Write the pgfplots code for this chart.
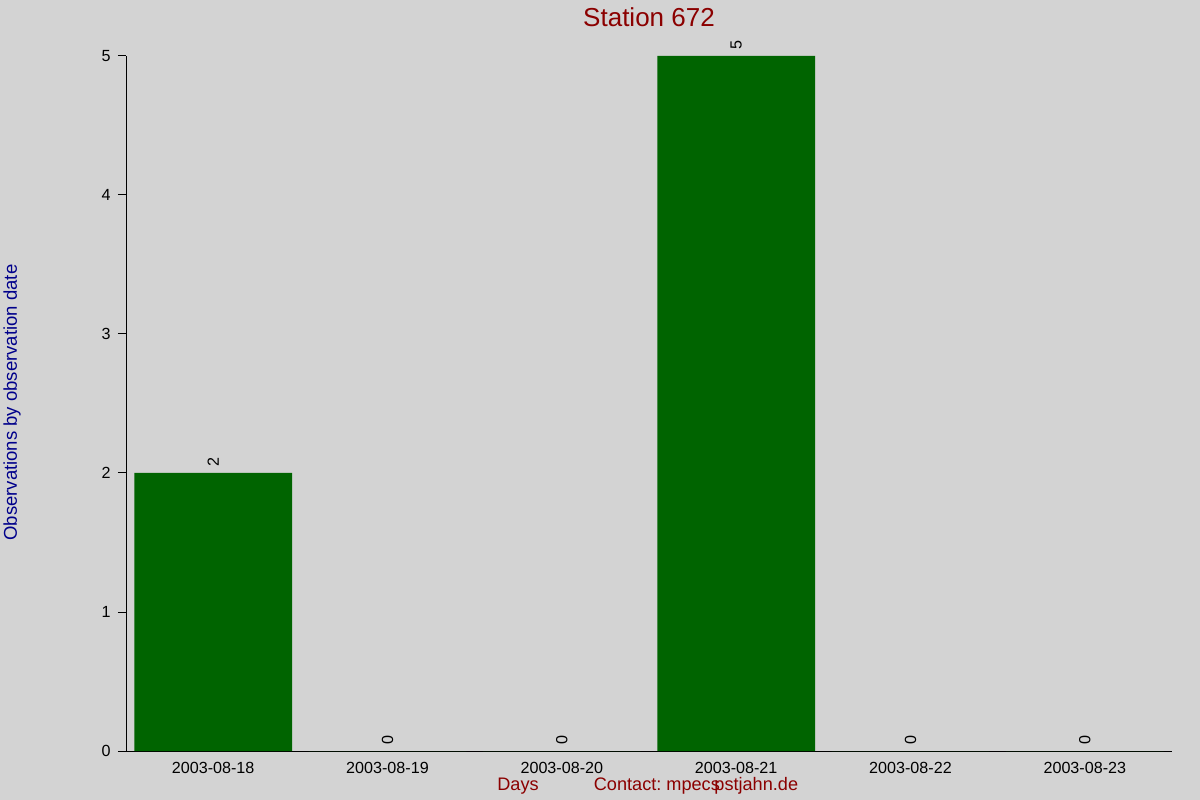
\documentclass[border=0pt]{standalone}
\usepackage{pgfplots}
\pgfplotsset{compat=1.18}
\usepackage{fontspec}
\setmainfont{Liberation Sans}
\definecolor{bg}{HTML}{D3D3D3}
\definecolor{bargreen}{HTML}{006400}
\definecolor{titlered}{HTML}{8B0000}
\definecolor{labelblue}{HTML}{00008B}
\begin{document}
\begin{tikzpicture}
\fill[bg] (0,0) rectangle (900pt,600pt);
\path[use as bounding box] (0,0) rectangle (900pt,600pt);
\begin{axis}[
    at={(94.5pt,36.75pt)}, anchor=south west,
    scale only axis,
    width=784.5pt, height=521.25pt,
    axis x line*=bottom, axis y line*=left,
    axis line style={black, line width=0.75pt, -},
    xmin=-0.5, xmax=5.5,
    ymin=0, ymax=5,
    ytick={0,1,2,3,4,5},
    xtick={0,1,2,3,4,5},
    xticklabels={2003-08-18,2003-08-19,2003-08-20,2003-08-21,2003-08-22,2003-08-23},
    x tick style={draw=none},
    y tick style={black, line width=0.75pt},
    major tick length=6pt,
    ytick pos=left,
    tick align=outside,
    ticklabel style={font=\fontsize{12.1}{14}\selectfont},
    /pgf/number format/assume math mode=true,
    xticklabel style={yshift=1pt},
    yticklabel style={xshift=-2pt},
    ybar, bar width=0.905,
    nodes near coords,
    every node near coord/.append style={rotate=90, anchor=west, black,
        font=\fontsize{12.1}{14}\selectfont, xshift=1pt},
]
\addplot[fill=bargreen, draw=none] coordinates {
    (0,2) (1,0) (2,0) (3,5) (4,0) (5,0)
};
\end{axis}
\node[titlered, font=\fontsize{19.5}{22}\selectfont] at (486.75pt,587.25pt) {Station 672};
\node[titlered, font=\fontsize{13.6}{16}\selectfont] at (388.5pt,10.5pt) {Days};
\node[titlered, font=\fontsize{13.6}{16}\selectfont] at (522pt,10.5pt) {Contact:\ mpecs\hspace{-0.3em}pstjahn.de};
\node[labelblue, rotate=90, font=\fontsize{13.9}{16}\selectfont] at (9pt,298pt) {Observations by observation date};
\end{tikzpicture}
\end{document}
